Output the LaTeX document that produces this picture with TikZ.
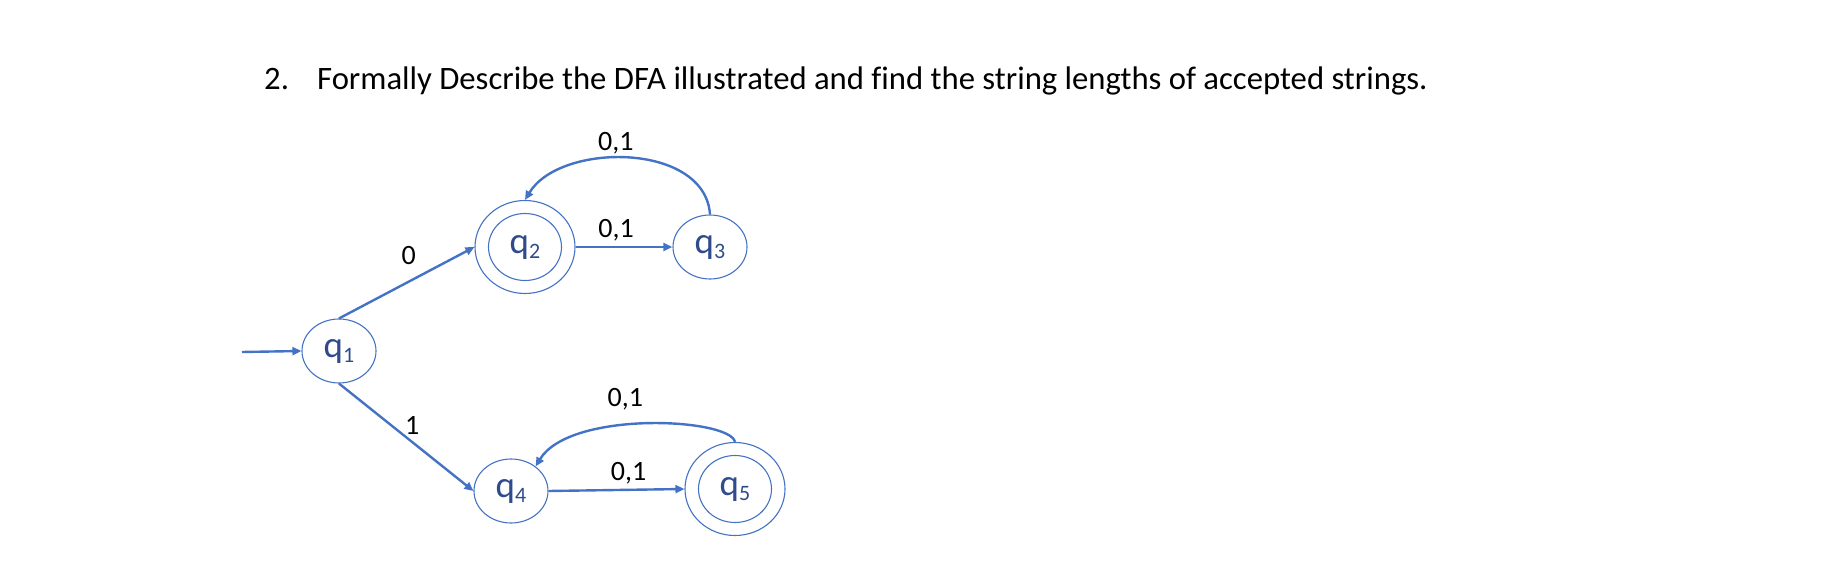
\documentclass[tikz,border=0pt]{standalone}
\usepackage{fontspec}
\setmainfont{Carlito}[Ligatures=NoCommon]
\usetikzlibrary{arrows.meta,shapes.geometric}
\definecolor{dfablue}{HTML}{4472C4}
\definecolor{dfanavy}{HTML}{2F4B8C}
\newcommand{\qsub}[1]{q\raisebox{-5pt}{\fontsize{22}{22}\selectfont #1}}

\begin{document}
\begin{tikzpicture}[x=1pt, y=-1pt,
    state/.style={ellipse, draw=dfablue, line width=1.1pt, minimum width=74pt, minimum height=64pt, inner sep=0pt, text=dfanavy, font=\fontsize{37}{40}\selectfont},
    accept/.style={state, minimum width=100pt, minimum height=93pt},
    edge/.style={draw=dfablue, line width=2.4pt, -{Triangle[length=9pt,width=8pt]}},
    lbl/.style={font=\fontsize{28}{30}\selectfont, text=black, inner sep=0pt}]
    \useasboundingbox (0,0) rectangle (1829,561);
    \node[anchor=base west, inner sep=0pt, font=\fontsize{32.7}{36}\selectfont] (title) at (264,90) {\makebox[53pt][l]{2.}Formally Describe the DFA illustrated and find the string lengths of accepted strings.};
    % plain states
    \foreach \n/\x/\y in {1/339/351, 3/710/247, 4/511/491}{
        \node[state] (q\n) at (\x,\y) {\qsub{\n}};
    }
    % accepting states: outer ring, then inner ring with the name
    \foreach \n/\x/\y in {2/525/247, 5/735/489}{
        \node[accept] (q\n) at (\x,\y) {};
        \node[state, minimum width=73pt, minimum height=67pt] (q\n in) at (\x,\y) {\qsub{\n}};
    }
    \coordinate (start) at (242,352); % free end of the start arrow
    \draw[edge] (start) -- (q1.west);
    \draw[edge] (q1.north) -- (q2.west) node[lbl, midway, xshift=2pt, yshift=27pt] (l12) {0};
    \draw[edge] (q1.south) -- (q4.west) node[lbl, midway, xshift=6pt, yshift=12pt] (l14) {1};
    \draw[edge] (q2.east) -- (q3.west) node[lbl, midway, xshift=-8pt, yshift=17pt] (l23) {0,1};
    \draw[edge] (q3.north) .. controls (705,142) and (560,142) .. (q2.north) node[lbl, midway, xshift=-13pt, yshift=15pt] (l32) {0,1};
    \draw[edge] (q4.east) -- (q5.west) node[lbl, midway, xshift=12pt, yshift=17pt] (l45) {0,1};
    \draw[edge] (q5.north) .. controls (730,418) and (570,410) .. (q4.45) node[lbl, midway, xshift=-21pt, yshift=25pt] (l54) {0,1};
\end{tikzpicture}
\end{document}
